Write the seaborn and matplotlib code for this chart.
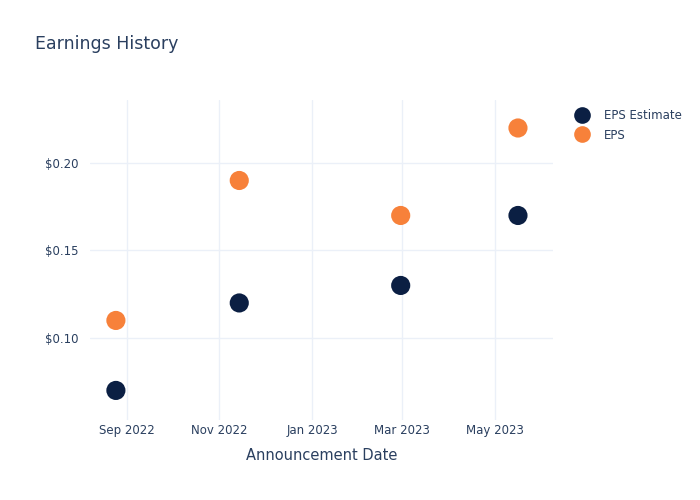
import matplotlib.pyplot as plt
import matplotlib.dates as mdates
import matplotlib.ticker as mticker
import pandas as pd
import seaborn as sns

dates = ["2022-08-25", "2022-11-14", "2023-02-28", "2023-05-16"]
eps_estimate = [0.07, 0.12, 0.13, 0.17]
eps_actual = [0.11, 0.19, 0.17, 0.22]

TEXT = "#2a3f5f"
GRID = "#ebf0f8"

df = pd.DataFrame({
    "date": pd.to_datetime(dates * 2),
    "value": eps_estimate + eps_actual,
    "series": ["EPS Estimate"] * 4 + ["EPS"] * 4,
})

sns.set_style("white")
plt.rcParams["font.family"] = ["DejaVu Sans"]

fig = plt.figure(figsize=(7, 5), dpi=100)
ax = fig.add_axes([90 / 700, 80 / 500, 463 / 700, 320 / 500])

sns.scatterplot(data=df, x="date", y="value", hue="series",
                palette={"EPS Estimate": "#0b1f43", "EPS": "#f7813a"},
                s=190, edgecolor="none", ax=ax, zorder=3)

ax.set_xlim(pd.Timestamp("2022-08-08"), pd.Timestamp("2023-06-08"))
ax.set_ylim(0.0531, 0.236)
ax.xaxis.set_major_locator(mdates.MonthLocator(bymonth=[1, 3, 5, 9, 11]))
ax.xaxis.set_major_formatter(mdates.DateFormatter("%b %Y"))
ax.yaxis.set_major_locator(mticker.FixedLocator([0.10, 0.15, 0.20]))
ax.yaxis.set_major_formatter(mticker.FuncFormatter(lambda v, p: f"${v:.2f}"))

ax.grid(True, color=GRID, linewidth=1)
for s in ax.spines.values():
    s.set_visible(False)
ax.tick_params(axis="x", length=0, colors=TEXT, labelsize=8.5, pad=3)
ax.tick_params(axis="y", length=0, colors=TEXT, labelsize=8.5, pad=8)
ax.set_xlabel("Announcement Date", color=TEXT, fontsize=10.5, labelpad=8)
ax.set_ylabel("")

fig.text(35 / 700, 1 - 44 / 500, "Earnings History", color=TEXT,
         fontsize=12.5, va="center", ha="left")

leg = ax.legend(loc="upper left", bbox_to_anchor=(1.015, 1.005), frameon=False,
                fontsize=8.5, handletextpad=0.8, labelspacing=0.55)
for t in leg.get_texts():
    t.set_color(TEXT)
for h in leg.legend_handles:
    h.set_markersize(12)

fig.savefig("out.png", dpi=100)
